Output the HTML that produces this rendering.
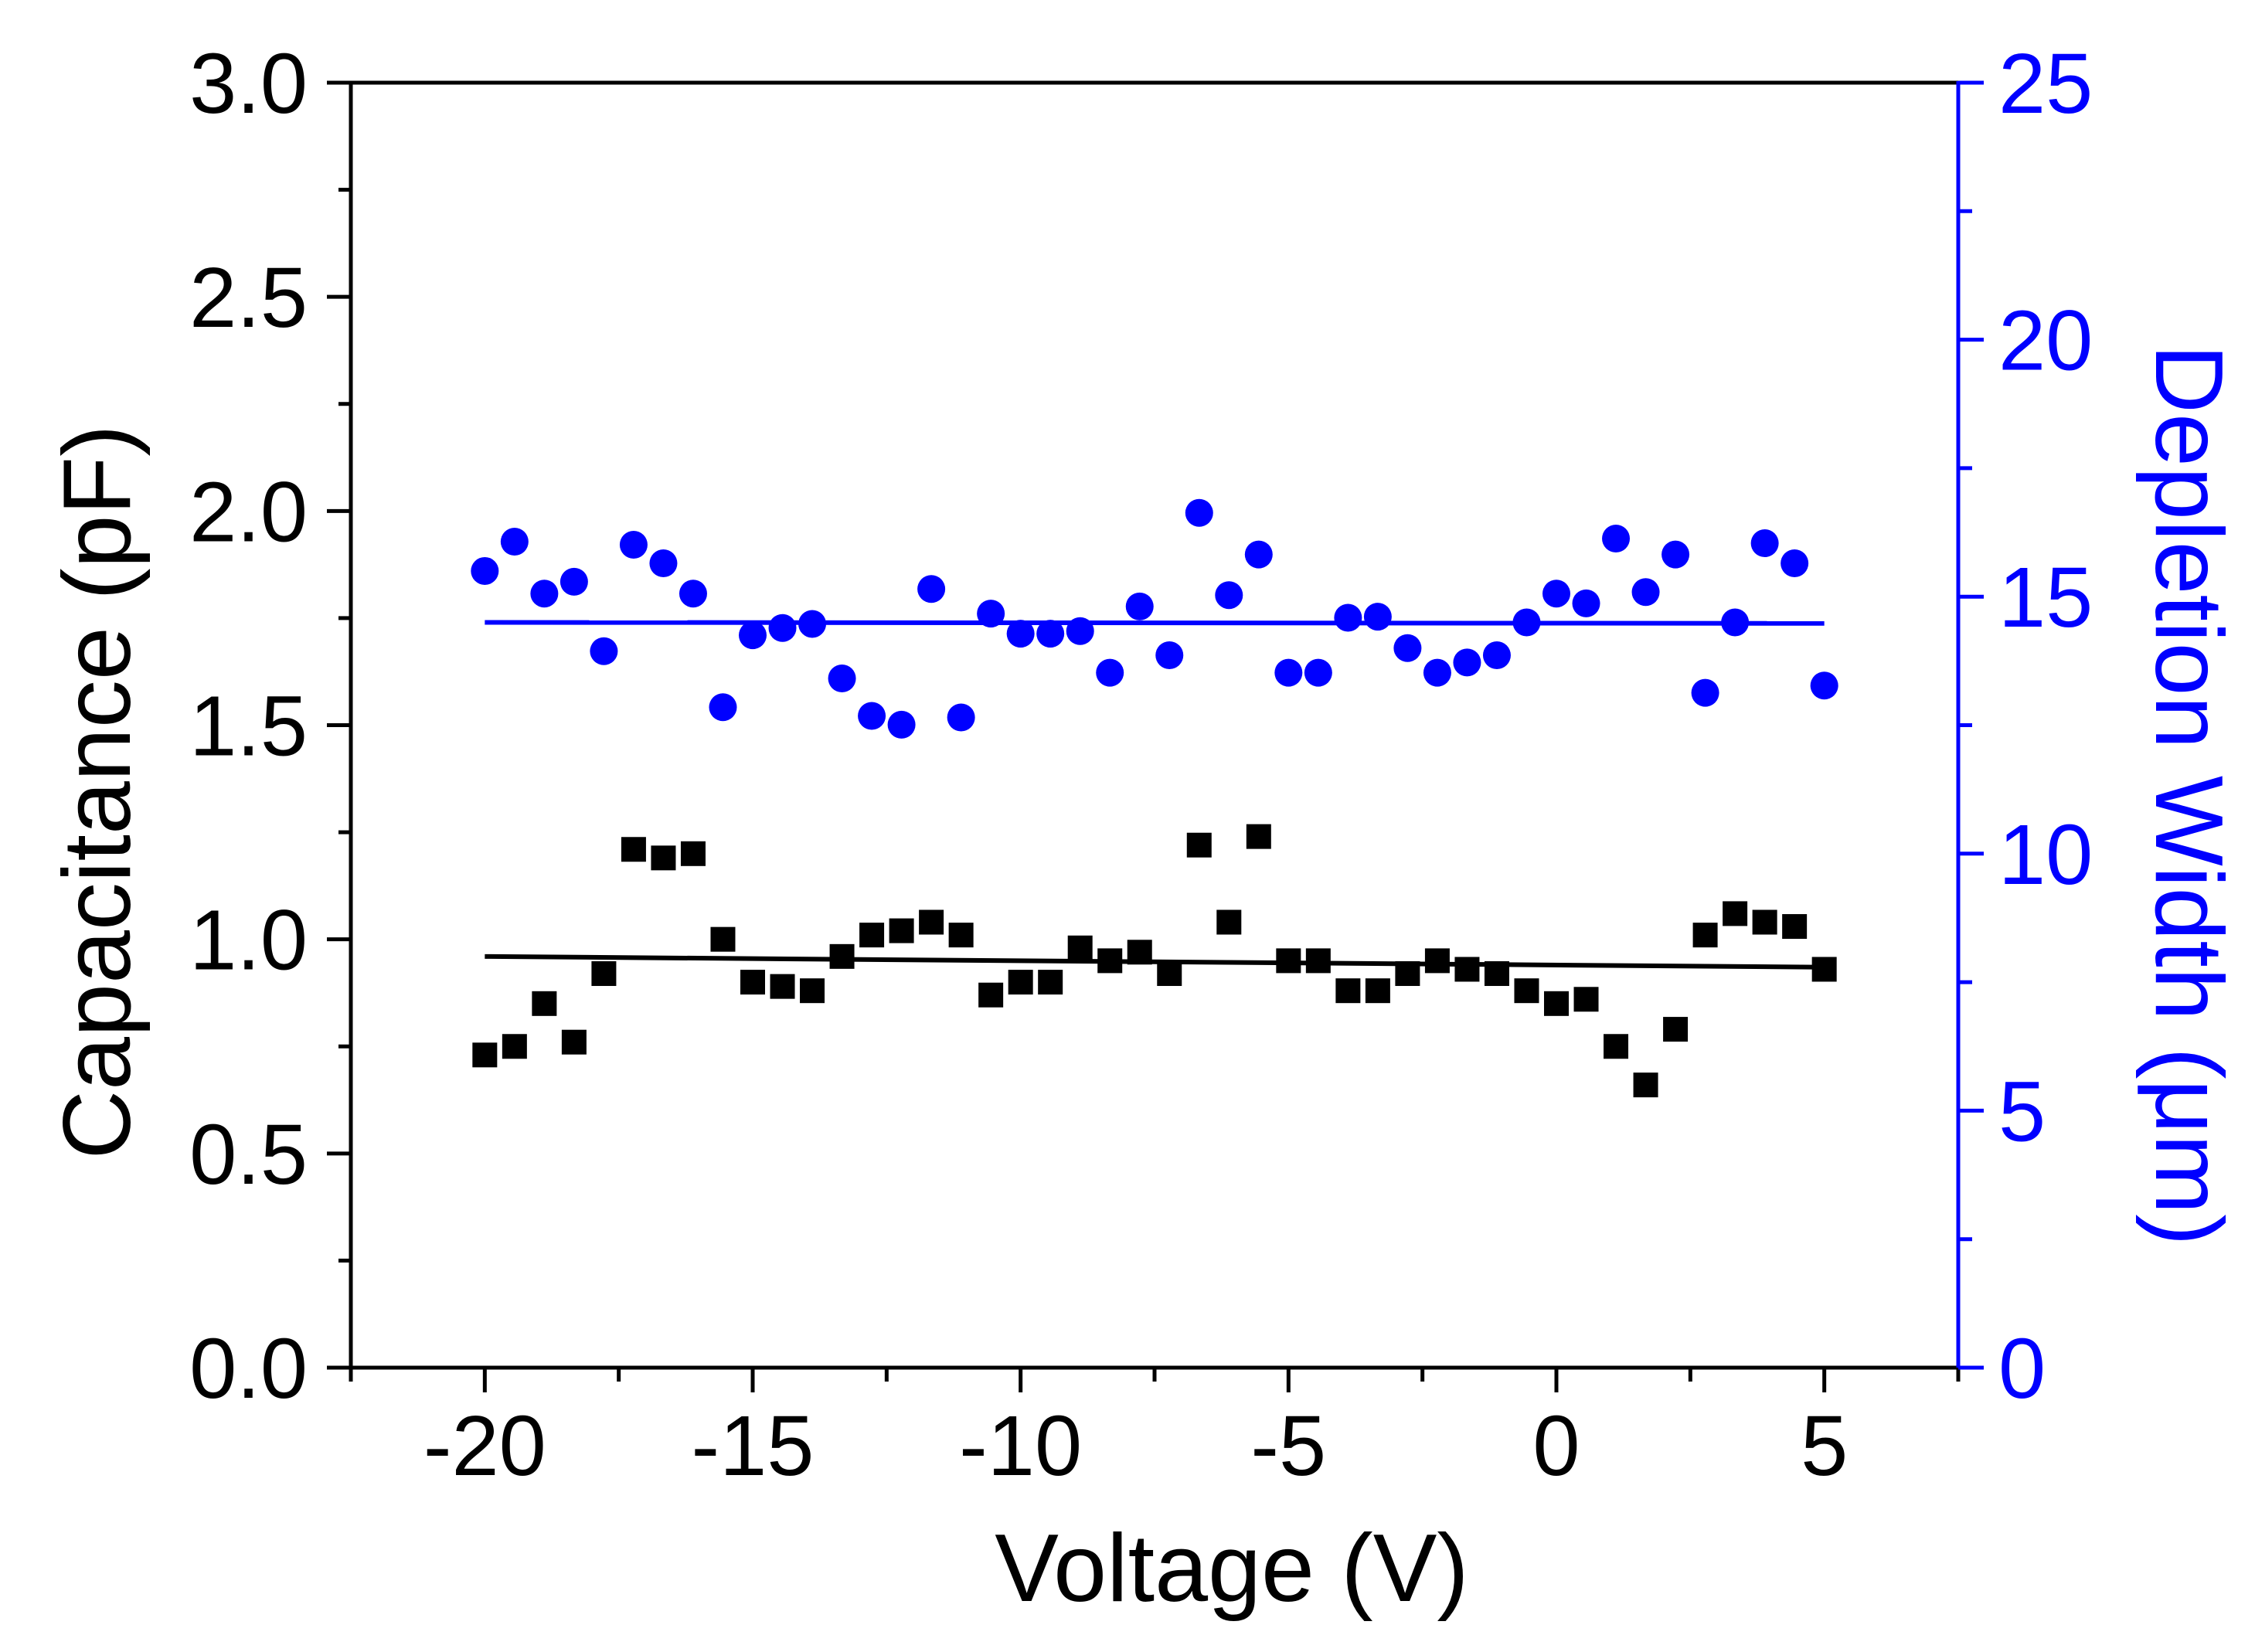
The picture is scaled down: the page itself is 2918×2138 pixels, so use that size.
<!DOCTYPE html>
<html><head><meta charset="utf-8"><style>
html,body{margin:0;padding:0;background:#fff;}
svg{display:block;}
text{font-family:"Liberation Sans",Arial,sans-serif;}
</style></head><body>
<svg id="chart" width="2918" height="2138" viewBox="0 0 2918 2138" xmlns="http://www.w3.org/2000/svg">
<rect x="0" y="0" width="2918" height="2138" fill="#fff"/>
<g id="marks"></g>
<g id="axes"></g>
<text x="1594" y="2072" font-size="124" text-anchor="middle" fill="#000">Voltage (V)</text>
<text transform="translate(168,1025) rotate(-90)" font-size="124" text-anchor="middle" fill="#000">Capacitance (pF)</text>
<text transform="translate(2790,1029) rotate(90)" font-size="124" text-anchor="middle" fill="#0000ff">Depletion Width (μm)</text>
</svg>
<script>
const capacitance = [0.73,0.75,0.85,0.76,0.92,1.21,1.19,1.20,1.00,0.90,0.89,0.88,0.96,1.01,1.02,1.04,1.01,0.87,0.90,0.90,0.98,0.95,0.97,0.92,1.22,1.04,1.24,0.95,0.95,0.88,0.88,0.92,0.95,0.93,0.92,0.88,0.85,0.86,0.75,0.66,0.79,1.01,1.06,1.04,1.03,0.93];
const depletion = [15.5,16.07,15.06,15.29,13.94,16.01,15.65,15.06,12.85,14.25,14.39,14.47,13.41,12.68,12.51,15.15,12.65,14.67,14.28,14.28,14.33,13.52,14.81,13.86,16.63,15.03,15.82,13.52,13.52,14.59,14.61,14.0,13.52,13.72,13.86,14.5,15.06,14.87,16.13,15.09,15.82,13.13,14.5,16.04,15.65,13.27];
const voltageStart = -20;
const voltageEnd = 5;
const capFit = [0.96, 0.935];
const depFit = [14.5, 14.48];
const xTicks = [-20,-15,-10,-5,0,5];
const xTickLabels = ["-20","-15","-10","-5","0","5"];
const leftTicks = [0,0.5,1.0,1.5,2.0,2.5,3.0];
const leftTickLabels = ["0.0","0.5","1.0","1.5","2.0","2.5","3.0"];
const rightTicks = [0,5,10,15,20,25];
const rightTickLabels = ["0","5","10","15","20","25"];

const L=454,R=2534,T=107,B=1770;
const XMIN=-22.5,XMAX=7.5;
const sx=v=>L+(v-XMIN)/(XMAX-XMIN)*(R-L);
const syL=v=>B-v/3*(B-T);
const syR=v=>B-v/25*(B-T);
const NS="http://www.w3.org/2000/svg";
const marks=document.getElementById('marks');
const axes=document.getElementById('axes');
function mk(tag,attrs,parent){const e=document.createElementNS(NS,tag);for(const k in attrs)e.setAttribute(k,attrs[k]);parent.appendChild(e);return e;}
const n=capacitance.length;
const volt=i=>voltageStart+i*(voltageEnd-voltageStart)/(n-1);

let l1=mk('line',{x1:sx(voltageStart),y1:syL(capFit[0]),x2:sx(voltageEnd),y2:syL(capFit[1]),stroke:'#000','stroke-width':6},marks);


let l2=mk('line',{x1:sx(voltageStart),y1:syR(depFit[0]),x2:sx(voltageEnd),y2:syR(depFit[1]),stroke:'#0000ff','stroke-width':6},marks);



for(let i=0;i<n;i++){
  const x=sx(volt(i));
  const s=mk('rect',{x:x-16,y:syL(capacitance[i])-16,width:32,height:32,fill:'#000'},marks);
  
  
}
for(let i=0;i<depletion.length;i++){
  const x=sx(volt(i));
  const c=mk('circle',{cx:x,cy:syR(depletion[i]),r:18,fill:'#0000ff'},marks);
  
  
}

let f=mk('line',{x1:L,y1:T,x2:R,y2:T,stroke:'#000','stroke-width':5},axes);


f=mk('line',{x1:L,y1:T-2,x2:L,y2:B+2,stroke:'#000','stroke-width':5},axes);


f=mk('line',{x1:L-2,y1:B,x2:R,y2:B,stroke:'#000','stroke-width':5},axes);


f=mk('line',{x1:R,y1:T-2,x2:R,y2:B+2,stroke:'#0000ff','stroke-width':5},axes);



for(let v=XMIN;v<=XMAX+0.001;v+=2.5){
  const major=xTicks.includes(v);
  const t=mk('line',{x1:sx(v),y1:B,x2:sx(v),y2:B+(major?32:18),stroke:'#000','stroke-width':5},axes);
  
  
}
xTicks.forEach((v,i)=>{
  const t=mk('text',{x:sx(v),y:1909,'font-size':110,'text-anchor':'middle',fill:'#000'},axes);
  t.textContent=xTickLabels[i];
  
  
});
for(let k=0;k<=12;k++){
  const v=k*0.25;const major=k%2===0;
  const t=mk('line',{x1:L,y1:syL(v),x2:L-(major?31:16),y2:syL(v),stroke:'#000','stroke-width':5},axes);
  
  
}
leftTicks.forEach((v,i)=>{
  const t=mk('text',{x:398,y:syL(v)+39,'font-size':110,'text-anchor':'end',fill:'#000'},axes);
  t.textContent=leftTickLabels[i];
  
  
});
for(let k=0;k<=10;k++){
  const v=k*2.5;const major=k%2===0;
  const t=mk('line',{x1:R,y1:syR(v),x2:R+(major?33:18),y2:syR(v),stroke:'#0000ff','stroke-width':5},axes);
  
  
}
rightTicks.forEach((v,i)=>{
  const t=mk('text',{x:2586,y:syR(v)+39,'font-size':110,'text-anchor':'start',fill:'#0000ff'},axes);
  t.textContent=rightTickLabels[i];
  
  
});
</script>
</body></html>
